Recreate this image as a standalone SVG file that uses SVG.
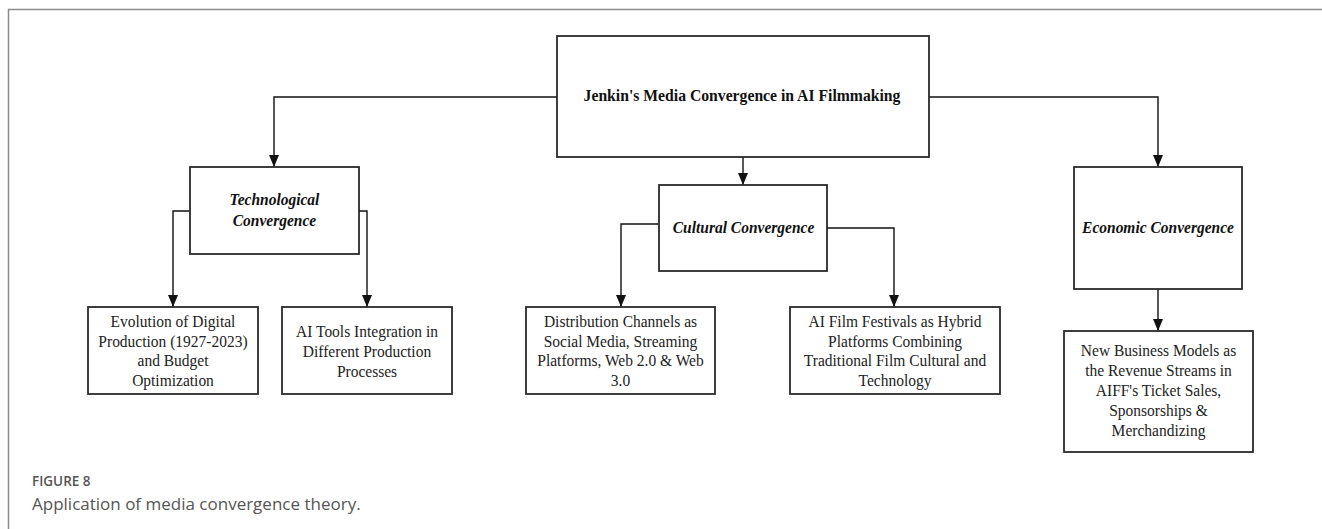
<svg xmlns="http://www.w3.org/2000/svg" width="1322" height="529" viewBox="0 0 1322 529">
<defs>
<style>
.frame{fill:none;stroke:#8c8c8c;stroke-width:1.5}
.box{fill:#fff;stroke:#2a2a2a;stroke-width:1.8}
.con{fill:none;stroke:#111;stroke-width:1.4}
.t{font-family:"Liberation Serif","Times New Roman",serif;font-size:17.5px;fill:#222;text-anchor:middle}
.bi{font-family:"Liberation Serif","Times New Roman",serif;font-size:17.5px;font-weight:bold;font-style:italic;fill:#111;text-anchor:middle}
.title{font-family:"Liberation Serif","Times New Roman",serif;font-size:15.7px;font-weight:bold;fill:#111;text-anchor:middle}
.cap1{font-family:"Open Sans","Noto Sans",sans-serif;font-size:13.5px;font-weight:600;fill:#555}
.cap2{font-family:"Open Sans","Noto Sans",sans-serif;font-size:17px;fill:#555}
</style>
<marker id="arr" viewBox="0 0 12 10" refX="12" refY="5" markerWidth="12" markerHeight="10" markerUnits="userSpaceOnUse" orient="auto">
<path d="M0,0 L12,5 L0,10 z" fill="#111"/>
</marker>
</defs>
<rect width="1322" height="529" fill="#fff"/>
<rect class="frame" x="8.5" y="9.5" width="1400" height="600"/>

<g id="connectors">
<path class="con" d="M557,97 H274 V167" marker-end="url(#arr)"/>
<path class="con" d="M743,157 V185" marker-end="url(#arr)"/>
<path class="con" d="M929,97 H1158 V167" marker-end="url(#arr)"/>
<path class="con" d="M190,211 H173 V307" marker-end="url(#arr)"/>
<path class="con" d="M359,211 H367 V307" marker-end="url(#arr)"/>
<path class="con" d="M659,224 H621 V307" marker-end="url(#arr)"/>
<path class="con" d="M827,228 H894 V307" marker-end="url(#arr)"/>
<path class="con" d="M1158,289 V331" marker-end="url(#arr)"/>
</g>

<g id="node-root">
<rect class="box" x="557" y="36" width="372" height="121"/>
<text class="title" x="742" y="101">Jenkin's Media Convergence in AI Filmmaking</text>
</g>

<g id="node-tech">
<rect class="box" x="190" y="167" width="169" height="87"/>
<text class="bi" transform="translate(274.5,0) scale(0.886,1)"><tspan x="0" y="205">Technological</tspan><tspan x="0" y="226">Convergence</tspan></text>
</g>

<g id="node-cultural">
<rect class="box" x="659" y="185" width="168" height="86"/>
<text class="bi" transform="translate(743.5,0) scale(0.886,1)"><tspan x="0" y="233">Cultural Convergence</tspan></text>
</g>

<g id="node-economic">
<rect class="box" x="1074" y="167" width="168" height="122"/>
<text class="bi" transform="translate(1158,0) scale(0.886,1)"><tspan x="0" y="233">Economic Convergence</tspan></text>
</g>

<g id="node-evolution">
<rect class="box" x="88" y="307" width="170" height="87"/>
<text class="t" transform="translate(173,0) scale(0.886,1)"><tspan x="0" y="327">Evolution of Digital</tspan><tspan x="0" y="347">Production (1927-2023)</tspan><tspan x="0" y="366.5">and Budget</tspan><tspan x="0" y="386">Optimization</tspan></text>
</g>

<g id="node-aitools">
<rect class="box" x="282" y="307" width="170" height="87"/>
<text class="t" transform="translate(367,0) scale(0.886,1)"><tspan x="0" y="337">AI Tools Integration in</tspan><tspan x="0" y="357">Different Production</tspan><tspan x="0" y="376.5">Processes</tspan></text>
</g>

<g id="node-distribution">
<rect class="box" x="526" y="307" width="189" height="87"/>
<text class="t" transform="translate(620.5,0) scale(0.886,1)"><tspan x="0" y="327">Distribution Channels as</tspan><tspan x="0" y="347">Social Media, Streaming</tspan><tspan x="0" y="366.5">Platforms, Web 2.0 &amp; Web</tspan><tspan x="0" y="386">3.0</tspan></text>
</g>

<g id="node-festivals">
<rect class="box" x="790" y="307" width="210" height="87"/>
<text class="t" transform="translate(895,0) scale(0.886,1)"><tspan x="0" y="327">AI Film Festivals as Hybrid</tspan><tspan x="0" y="347">Platforms Combining</tspan><tspan x="0" y="366.5">Traditional Film Cultural and</tspan><tspan x="0" y="386">Technology</tspan></text>
</g>

<g id="node-business">
<rect class="box" x="1064" y="331" width="189" height="121"/>
<text class="t" transform="translate(1158.5,0) scale(0.886,1)"><tspan x="0" y="356">New Business Models as</tspan><tspan x="0" y="376">the Revenue Streams in</tspan><tspan x="0" y="396">AIFF's Ticket Sales,</tspan><tspan x="0" y="416">Sponsorships &amp;</tspan><tspan x="0" y="436">Merchandizing</tspan></text>
</g>

<g id="caption">
<text class="cap1" x="32" y="486">FIGURE 8</text>
<text class="cap2" x="32" y="510">Application of media convergence theory.</text>
</g>
</svg>
